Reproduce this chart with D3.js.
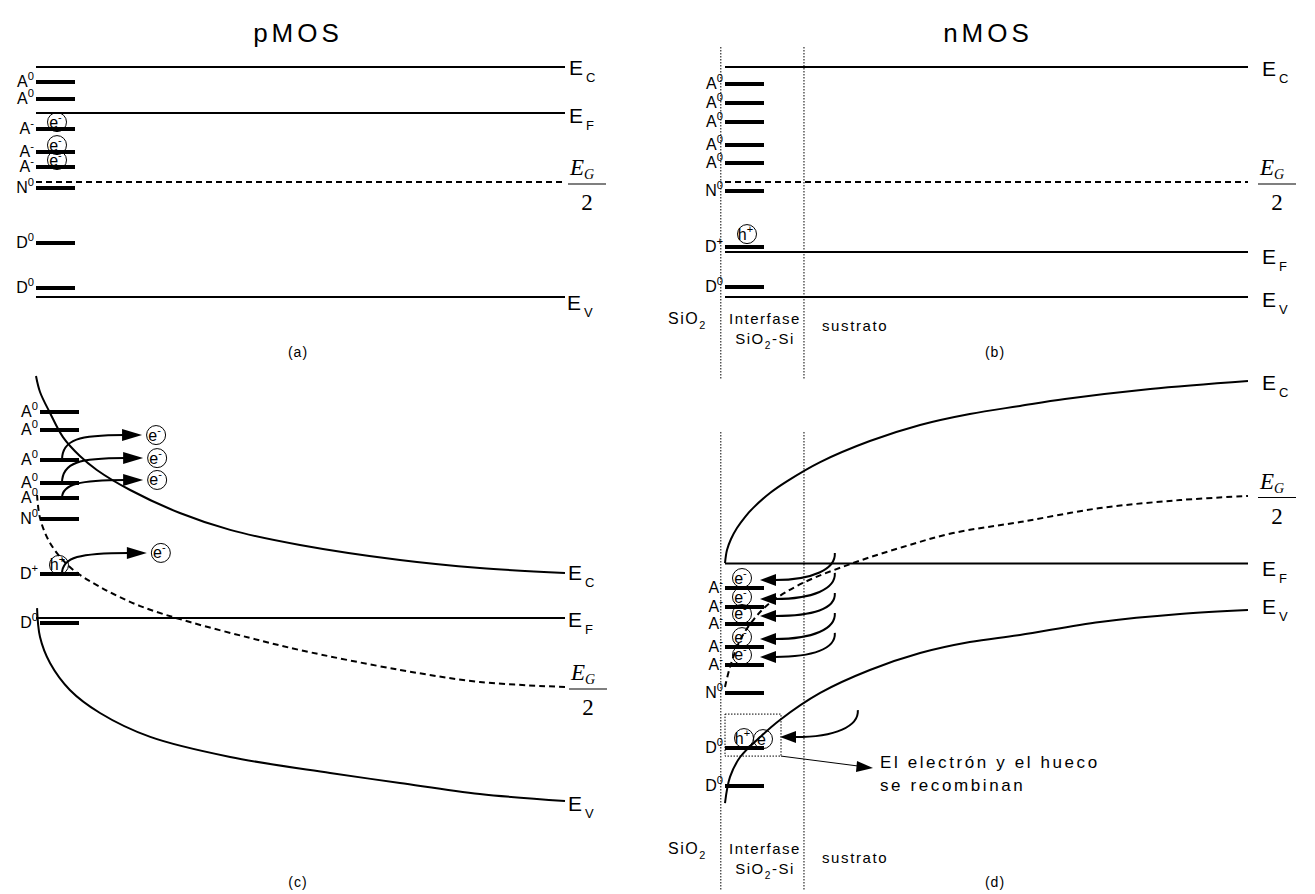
<!DOCTYPE html>
<html>
<head>
<meta charset="utf-8">
<script src="https://cdn.jsdelivr.net/npm/d3@7"></script>
<style>
  body { margin: 0; background: #fff; }
  text { font-family: "Liberation Sans", Arial, sans-serif; fill: #000; }
  .serif { font-family: "Liberation Serif", "Times New Roman", serif; }
</style>
</head>
<body>
<svg id="chart" width="1315" height="894"></svg>
<script>
// energy unit: bulk EV = 0, bulk EC = 100 ; distance unit: 0 (interface) .. 100 (bulk)
const levelsA = [
  { name: "A", q: "0", e: 93.5 }, { name: "A", q: "0", e: 86.1 },
  { name: "A", q: "-", e: 73.0 }, { name: "A", q: "-", e: 63.0 },
  { name: "A", q: "-", e: 56.5 }, { name: "N", q: "0", e: 47.4 },
  { name: "D", q: "0", e: 23.5 }, { name: "D", q: "0", e: 3.9 }
];
const levelsB = [
  { name: "A", q: "0", e: 92.6 }, { name: "A", q: "0", e: 84.3 },
  { name: "A", q: "0", e: 76.1 }, { name: "A", q: "0", e: 66.1 },
  { name: "A", q: "0", e: 58.3 }, { name: "N", q: "0", e: 46.1 },
  { name: "D", q: "+", e: 21.7 }, { name: "D", q: "0", e: 4.3 }
];
const levelsC = [
  { name: "A", q: "0", e: 170.6 }, { name: "A", q: "0", e: 162.7 },
  { name: "A", q: "0", e: 149.6 }, { name: "A", q: "0", e: 139.5 },
  { name: "A", q: "0", e: 132.9 }, { name: "N", q: "0", e: 123.7 },
  { name: "D", q: "+", e: 99.6 }, { name: "D", q: "0", e: 78.1 }
];
const levelsD = [
  { name: "A", q: "-", e: 9.6 }, { name: "A", q: "-", e: 1.3 },
  { name: "A", q: "-", e: -6.1 }, { name: "A", q: "-", e: -16.2 },
  { name: "A", q: "-", e: -24.0 }, { name: "N", q: "0", e: -36.2 },
  { name: "D", q: "0", e: -60.3 }, { name: "D", q: "0", e: -76.9 }
];
const fermi = { a: 80, b: 19.6, c: 80.3, d: 20.3 };

// bent bands, [distance, energy]
const ecC = [[0,186.4],[0.76,179.4],[2.65,170.2],[5.1,159.6],[8.3,151.3],[11.5,145.2],[17.8,136.4],[27.2,126.3],[36.7,118.9],[49.9,112.3],[68.8,105.7],[83.9,102.2],[100,100]];
const eiC = [[0.2,134.2],[0.76,124.1],[2.65,113.2],[6.4,102.6],[12.1,93.9],[19.7,85.5],[29.1,78.5],[40.5,71.5],[49.9,66.2],[68.8,57.5],[83.9,52.2],[100,50]];
const evC = [[0.2,84.6],[0.76,71.9],[2.65,60.5],[6.4,48.7],[12.1,38.6],[21.6,28.1],[36.7,19.3],[55.6,12.3],[68.8,7.9],[83.9,3.1],[100,0]];
const ecD = [[0,20.5],[0.38,26.2],[1.15,31.0],[2.29,35.8],[3.82,40.6],[5.35,44.5],[8.6,51.1],[11.9,56.3],[18.2,64.6],[27.7,73.8],[37.3,80.8],[46.8,85.6],[56.4,89.1],[65.0,92.1],[81.3,96.5],[100,100]];
const eiD = [[0,-33.6],[0.96,-24.9],[2.9,-13.1],[5.4,-4.4],[8.6,3.1],[14.9,11.8],[24.5,20.5],[34.0,27.5],[43.6,33.6],[56.4,38.4],[71.7,44.5],[87.0,48.0],[100,49.8]];
const evD = [[0,-84.3],[0.96,-72.9],[2.9,-64.2],[6.7,-55.5],[10.5,-48.0],[18.2,-36.2],[27.7,-26.2],[37.3,-18.8],[46.8,-14.0],[56.4,-10.9],[71.7,-5.2],[87.0,-1.7],[100,0]];

// (c) emission: level index -> free electron [distance, energy]
const emittedC = [ { from: 2, x: 22.7, e: 160.5 }, { from: 3, x: 22.9, e: 150.4 },
                   { from: 4, x: 22.9, e: 140.8 }, { from: 6, x: 23.6, e: 108.8 } ];
// (d) capture: electron coming from [distance, energy] into level index
const capturedD = [ { to: 0, x: 21.0, e: 24.9 }, { to: 1, x: 21.0, e: 16.2 },
                    { to: 2, x: 21.0, e: 7.4 }, { to: 3, x: 21.0, e: -1.3 },
                    { to: 4, x: 21.0, e: -10.0 }, { to: 6, x: 25.4, e: -43.7 } ];
const interfaceBounds = [-0.8, 15.1];

const svg = d3.select("#chart");

function frame(xr, yr) {
  return { x: d3.scaleLinear().domain([0, 100]).range(xr),
           y: d3.scaleLinear().domain([0, 100]).range(yr) };
}
const fa = frame([36, 565], [297, 67]);
const fb = frame([725, 1248], [297, 67]);
const fc = frame([36, 565], [801, 573]);
const fd = frame([725, 1248], [610, 381]);

function hline(x1, x2, y, w, dash) {
  const l = svg.append("line").attr("x1", x1).attr("x2", x2).attr("y1", y).attr("y2", y)
    .attr("stroke", "#000").attr("stroke-width", w);
  if (dash) l.attr("stroke-dasharray", dash);
  return l;
}

function supText(x, y, base, sup, size, anchor) {
  const t = svg.append("text").attr("x", x).attr("y", y)
    .attr("text-anchor", anchor || "end").style("font-size", size + "px");
  t.append("tspan").text(base);
  t.append("tspan").attr("dy", -size * 0.42).style("font-size", (size * 0.7) + "px").text(sup);
  return t;
}

function subText(x, y, base, sub, size, anchor, ls) {
  const t = svg.append("text").attr("x", x).attr("y", y)
    .attr("text-anchor", anchor || "start").style("font-size", size + "px")
    .style("letter-spacing", (ls || 0) + "px");
  t.append("tspan").text(base);
  t.append("tspan").attr("dy", size * 0.3).style("font-size", (size * 0.68) + "px").text(sub);
  return t;
}

function bandLabel(x, y, sub) {
  const t = svg.append("text").attr("x", x).attr("y", y).style("font-size", "21px");
  t.append("tspan").text("E");
  t.append("tspan").attr("dx", 3).attr("dy", 7).style("font-size", "13px").text(sub);
}

function halfGap(x, yLine) {
  const t = svg.append("text").attr("class", "serif").attr("x", x + 2).attr("y", yLine - 9)
    .style("font-size", "23px").style("font-style", "italic");
  t.append("tspan").text("E");
  t.append("tspan").attr("dy", 4).style("font-size", "14px").text("G");
  hline(x, x + 38, yLine, 1.2);
  svg.append("text").attr("class", "serif").attr("x", x + 19).attr("y", yLine + 26)
    .attr("text-anchor", "middle").style("font-size", "23px").text("2");
}

function particle(cx, cy, sym, sign) {
  svg.append("circle").attr("cx", cx).attr("cy", cy).attr("r", 9.5)
    .attr("fill", "none").attr("stroke", "#000").attr("stroke-width", 1);
  const t = svg.append("text").attr("x", cx - 1.5).attr("y", cy + 5.5)
    .attr("text-anchor", "middle").style("font-size", "16px");
  t.append("tspan").text(sym);
  t.append("tspan").attr("dy", -7).style("font-size", "11px").text(sign);
}

function levels(f, list, barX) {
  list.forEach(l => {
    const y = f.y(l.e);
    hline(barX, barX + 39, y, 4);
    supText(barX - 2, y + 5, l.name, l.q, 16, "end");
  });
}

function arrowHead(tx, ty, dir, len, hw) {
  svg.append("path")
    .attr("d", `M${tx},${ty} L${tx - dir * len},${ty - hw} L${tx - dir * len},${ty + hw} Z`)
    .attr("fill", "#000");
}

const curve = f => d3.line().x(d => f.x(d[0])).y(d => f.y(d[1])).curve(d3.curveCatmullRom.alpha(0.5));

// ---------- (a) pMOS flat band ----------
svg.append("text").attr("x", 298).attr("y", 42).attr("text-anchor", "middle")
  .style("font-size", "26px").style("letter-spacing", "4px").text("pMOS");
hline(fa.x(0), fa.x(100), fa.y(100), 2);
hline(fa.x(0), fa.x(100), fa.y(fermi.a), 2);
hline(fa.x(0), fa.x(100), fa.y(50), 2, "6,4");
hline(fa.x(0), fa.x(100), fa.y(0), 2);
levels(fa, levelsA, fa.x(0));
levelsA.filter(l => l.q === "-").forEach(l => particle(fa.x(0) + 21, fa.y(l.e) - 7, "e", "-"));
bandLabel(fa.x(100) + 4, fa.y(100) + 8, "C");
bandLabel(fa.x(100) + 4, fa.y(fermi.a) + 10, "F");
bandLabel(fa.x(100) + 2, fa.y(0) + 13, "V");
halfGap(fa.x(100) + 3, fa.y(50) + 2);
svg.append("text").attr("x", 298).attr("y", 357).attr("text-anchor", "middle")
  .style("font-size", "14px").style("letter-spacing", "1px").text("(a)");

// ---------- (b) nMOS flat band ----------
svg.append("text").attr("x", 988).attr("y", 42).attr("text-anchor", "middle")
  .style("font-size", "26px").style("letter-spacing", "4px").text("nMOS");
interfaceBounds.forEach(b => svg.append("line").attr("x1", fb.x(b)).attr("x2", fb.x(b))
  .attr("y1", 47).attr("y2", 380).attr("stroke", "#000").attr("stroke-width", 1).attr("stroke-dasharray", "1.5,1.5"));
hline(fb.x(0), fb.x(100), fb.y(100), 2);
hline(fb.x(0), fb.x(100), fb.y(fermi.b), 2);
hline(fb.x(0), fb.x(100), fb.y(50), 2, "6,4");
hline(fb.x(0), fb.x(100), fb.y(0), 2);
levels(fb, levelsB, fb.x(0));
levelsB.filter(l => l.q === "+").forEach(l => particle(fb.x(0) + 22, fb.y(l.e) - 13, "h", "+"));
bandLabel(fb.x(100) + 14, fb.y(100) + 9, "C");
bandLabel(fb.x(100) + 14, fb.y(fermi.b) + 12, "F");
bandLabel(fb.x(100) + 14, fb.y(0) + 10, "V");
halfGap(fb.x(100) + 10, fb.y(50) + 2);
subText(668, 324, "SiO", "2", 16, "start", 1.5);
svg.append("text").attr("x", 765).attr("y", 324).attr("text-anchor", "middle")
  .style("font-size", "15px").style("letter-spacing", "1.5px").text("Interfase");
subText(765, 344, "SiO", "2", 15, "middle", 1.5).append("tspan").attr("dy", -4.5).text("-Si");
svg.append("text").attr("x", 822).attr("y", 331)
  .style("font-size", "15px").style("letter-spacing", "1.6px").text("sustrato");
svg.append("text").attr("x", 995).attr("y", 357).attr("text-anchor", "middle")
  .style("font-size", "14px").style("letter-spacing", "1px").text("(b)");

// ---------- (c) pMOS bent bands ----------
svg.append("path").datum(ecC).attr("d", curve(fc)).attr("fill", "none").attr("stroke", "#000").attr("stroke-width", 2);
svg.append("path").datum(eiC).attr("d", curve(fc)).attr("fill", "none").attr("stroke", "#000").attr("stroke-width", 2).attr("stroke-dasharray", "6,4");
svg.append("path").datum(evC).attr("d", curve(fc)).attr("fill", "none").attr("stroke", "#000").attr("stroke-width", 2);
hline(fc.x(0), fc.x(100), fc.y(fermi.c), 2);
levels(fc, levelsC, fc.x(0) + 4);
levelsC.filter(l => l.q === "+").forEach(l => particle(fc.x(0) + 23, fc.y(l.e) - 9, "h", "+"));
emittedC.forEach(m => {
  const sx = fc.x(0) + 26, sy = fc.y(levelsC[m.from].e);
  const ex = fc.x(m.x), ey = fc.y(m.e);
  const tip = ex - 14;
  svg.append("path")
    .attr("d", `M${sx},${sy} C${sx},${ey + 4} ${sx + 18},${ey} ${tip - 18},${ey}`)
    .attr("fill", "none").attr("stroke", "#000").attr("stroke-width", 2);
  arrowHead(tip, ey, 1, 20, 6);
  particle(ex, ey, "e", "-");
});
bandLabel(fc.x(100) + 3, fc.y(100) + 7, "C");
bandLabel(fc.x(100) + 3, fc.y(fermi.c) + 9, "F");
bandLabel(fc.x(100) + 3, fc.y(0) + 10, "V");
halfGap(fc.x(100) + 4, fc.y(50) + 2);
svg.append("text").attr("x", 298).attr("y", 887).attr("text-anchor", "middle")
  .style("font-size", "14px").style("letter-spacing", "1px").text("(c)");

// ---------- (d) nMOS bent bands ----------
interfaceBounds.forEach(b => svg.append("line").attr("x1", fd.x(b)).attr("x2", fd.x(b))
  .attr("y1", 432).attr("y2", 890).attr("stroke", "#000").attr("stroke-width", 1).attr("stroke-dasharray", "1.5,1.5"));
svg.append("path").datum(ecD).attr("d", curve(fd)).attr("fill", "none").attr("stroke", "#000").attr("stroke-width", 2);
svg.append("path").datum(eiD).attr("d", curve(fd)).attr("fill", "none").attr("stroke", "#000").attr("stroke-width", 2).attr("stroke-dasharray", "6,4");
svg.append("path").datum(evD).attr("d", curve(fd)).attr("fill", "none").attr("stroke", "#000").attr("stroke-width", 2);
hline(fd.x(0), fd.x(100), fd.y(fermi.d), 2);
levels(fd, levelsD, fd.x(0));
levelsD.filter(l => l.q === "-").forEach(l => particle(fd.x(0) + 17, fd.y(l.e) - 10, "e", "-"));
// recombination site
const rec = levelsD[6];
particle(fd.x(0) + 19, fd.y(rec.e) - 10, "h", "+");
particle(fd.x(0) + 38, fd.y(rec.e) - 9, "e", "");
svg.append("rect").attr("x", fd.x(0)).attr("y", fd.y(rec.e) - 34).attr("width", 56).attr("height", 42)
  .attr("fill", "none").attr("stroke", "#000").attr("stroke-width", 1).attr("stroke-dasharray", "1.5,1.5");
capturedD.forEach(m => {
  const sx = fd.x(m.x), sy = fd.y(m.e);
  const ty = m.to === 6 ? fd.y(levelsD[m.to].e) - 11 : fd.y(levelsD[m.to].e) - 8;
  const tip = m.to === 6 ? fd.x(0) + 55 : fd.x(0) + 35;
  svg.append("path")
    .attr("d", `M${sx},${sy} C${sx + 1},${sy + 16} ${sx - 22},${ty} ${tip + 15},${ty}`)
    .attr("fill", "none").attr("stroke", "#000").attr("stroke-width", 2);
  arrowHead(tip, ty, -1, 16, 6);
});
// note arrow
const nx1 = fd.x(0) + 56, ny1 = fd.y(rec.e) + 8;
svg.append("line").attr("x1", nx1).attr("y1", ny1).attr("x2", 858).attr("y2", 766)
  .attr("stroke", "#000").attr("stroke-width", 1);
svg.append("path").attr("d", "M873,768 L857,761 L856,772 Z").attr("fill", "#000");
svg.append("text").attr("x", 880).attr("y", 768).style("font-size", "17px")
  .style("letter-spacing", "2.6px").text("El electrón y el hueco");
svg.append("text").attr("x", 880).attr("y", 791).style("font-size", "17px")
  .style("letter-spacing", "2.6px").text("se recombinan");
bandLabel(fd.x(100) + 14, fd.y(100) + 9, "C");
bandLabel(fd.x(100) + 14, fd.y(fermi.d) + 12, "F");
bandLabel(fd.x(100) + 14, fd.y(0) + 4, "V");
halfGap(fd.x(100) + 10, fd.y(50) + 2);
subText(668, 854, "SiO", "2", 16, "start", 1.5);
svg.append("text").attr("x", 765).attr("y", 854).attr("text-anchor", "middle")
  .style("font-size", "15px").style("letter-spacing", "1.5px").text("Interfase");
subText(765, 874, "SiO", "2", 15, "middle", 1.5).append("tspan").attr("dy", -4.5).text("-Si");
svg.append("text").attr("x", 822).attr("y", 863)
  .style("font-size", "15px").style("letter-spacing", "1.6px").text("sustrato");
svg.append("text").attr("x", 995).attr("y", 887).attr("text-anchor", "middle")
  .style("font-size", "14px").style("letter-spacing", "1px").text("(d)");
</script>
</body>
</html>
